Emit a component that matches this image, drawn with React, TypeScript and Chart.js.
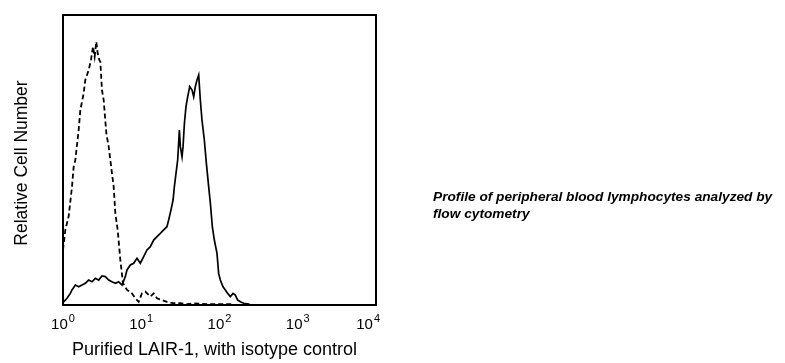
import React, { useEffect, useRef } from "react";
import { Chart, registerables } from "chart.js";

Chart.register(...registerables);

// Isotype control (dashed)
const isotypeX = [1.0, 1.071, 1.181, 1.303, 1.369, 1.438, 1.585, 1.665, 1.837, 1.928, 2.128, 2.279, 2.417, 2.539, 2.667, 2.773, 2.912, 3.0, 3.149, 3.309, 3.58, 3.834, 4.227, 4.441, 4.665, 4.997, 5.406, 5.845, 6.576, 7.615, 8.4, 9.27, 10.2, 11.28, 13.06, 14.41, 15.9, 18.4, 21.3, 25.9, 31.6, 38.4, 46.8, 69.2, 102, 152];
const isotypeY = [19.0, 25.9, 30.5, 40.8, 47.7, 50.0, 60.3, 67.2, 73.0, 77.6, 81.0, 84.5, 89.1, 85.6, 90.8, 86.8, 84.5, 83.9, 74.1, 70.7, 59.2, 54.6, 45.4, 40.8, 31.6, 25.9, 15.5, 7.5, 5.2, 4.0, 2.3, 1.1, 4.0, 4.6, 2.9, 4.0, 2.3, 1.7, 1.1, 0.6, 0.6, 0.3, 0.6, 0.3, 0.3, 0.3];

// Purified LAIR-1 (solid)
const lair1X = [1.02, 1.125, 1.241, 1.303, 1.438, 1.585, 1.749, 1.928, 2.128, 2.348, 2.589, 2.857, 3.149, 3.475, 3.834, 4.227, 4.665, 5.146, 5.677, 6.263, 6.576, 7.25, 8.0, 8.83, 9.73, 10.74, 11.84, 13.06, 14.41, 15.9, 17.54, 19.34, 21.3, 22.4, 24.0, 25.5, 26.5, 27.8, 29.2, 30.7, 31.6, 33.2, 34.2, 35.6, 37.3, 39.2, 41.6, 44.6, 46.8, 49.1, 51.6, 54.2, 56.9, 59.7, 64.0, 67.9, 72.7, 76.4, 81.0, 85.9, 92.9, 97.5, 102.5, 110.9, 118.8, 127.2, 137.5, 148.8, 159.3, 170.7, 184.6, 203.7, 236, 247.7];
const lair1Y = [1.1, 2.3, 4.0, 5.2, 6.9, 6.3, 6.9, 7.5, 8.6, 8.0, 9.2, 8.6, 10.0, 9.8, 8.6, 8.0, 7.5, 8.0, 6.9, 9.8, 12.1, 13.8, 14.4, 16.1, 14.4, 16.7, 19.0, 20.1, 22.4, 23.6, 24.7, 25.9, 27.0, 29.3, 32.8, 36.2, 40.8, 45.4, 50.0, 60.3, 54.6, 51.1, 54.6, 62.6, 68.4, 71.8, 75.3, 74.1, 71.8, 75.3, 77.6, 79.3, 70.7, 63.8, 56.9, 48.9, 40.8, 35.1, 27.0, 22.4, 17.8, 10.9, 8.6, 6.3, 5.2, 4.0, 2.9, 4.0, 3.4, 1.7, 1.1, 0.6, 0.3, 0];

const xTickValues = [1, 10, 100, 1000, 10000];
const xTickExponents = ["0", "1", "2", "3", "4"];

const xTitle = "Purified LAIR-1, with isotype control";
const yTitle = "Relative Cell Number";
const captionLines = ["Profile of peripheral blood lymphocytes analyzed by", "flow cytometry"];

const FONT = "Arial, 'Liberation Sans', Helvetica, sans-serif";

const decorPlugin = {
  id: "decor",
  afterDraw(chart: any) {
    const { ctx, chartArea, scales } = chart;
    const xs = scales.x;
    ctx.save();
    // frame
    ctx.strokeStyle = "#000";
    ctx.lineWidth = 2;
    ctx.strokeRect(chartArea.left, chartArea.top, chartArea.right - chartArea.left, chartArea.bottom - chartArea.top);
    // tick labels
    ctx.fillStyle = "#000";
    ctx.textBaseline = "alphabetic";
    xTickValues.forEach((v, i) => {
      const px = xs.getPixelForValue(v);
      ctx.font = `15px ${FONT}`;
      const baseW = ctx.measureText("10").width;
      ctx.font = `11px ${FONT}`;
      const expW = ctx.measureText(xTickExponents[i]).width;
      const total = baseW + expW + 1;
      let left = px - total / 2;
      if (i === xTickValues.length - 1) left = px - total + 4;
      ctx.font = `15px ${FONT}`;
      ctx.textAlign = "left";
      ctx.fillText("10", left, 329);
      ctx.font = `11px ${FONT}`;
      ctx.fillText(xTickExponents[i], left + baseW + 1, 322);
    });
    // x title
    ctx.font = `18px ${FONT}`;
    ctx.textAlign = "center";
    ctx.fillText(xTitle, 214.5, 355);
    // y title
    ctx.translate(27, 163);
    ctx.rotate(-Math.PI / 2);
    ctx.font = `17.5px ${FONT}`;
    ctx.fillText(yTitle, 0, 0);
    ctx.restore();
  },
};

export default function App() {
  const ref = useRef<HTMLCanvasElement | null>(null);

  useEffect(() => {
    if (!ref.current) return;
    const chart = new Chart(ref.current, {
      type: "line",
      data: {
        datasets: [
          {
            label: "Isotype control",
            data: isotypeX.map((x, i) => ({ x, y: isotypeY[i] })),
            borderColor: "#000",
            borderWidth: 1.8,
            borderDash: [5, 3],
            pointRadius: 0,
            fill: false,
            tension: 0,
          },
          {
            label: "Purified LAIR-1",
            data: lair1X.map((x, i) => ({ x, y: lair1Y[i] })),
            borderColor: "#000",
            borderWidth: 1.7,
            pointRadius: 0,
            fill: false,
            tension: 0,
          },
        ],
      },
      options: {
        responsive: false,
        animation: false,
        layout: { padding: { left: 63, top: 15, right: 409, bottom: 58 } },
        plugins: { legend: { display: false }, tooltip: { enabled: false } },
        scales: {
          x: { type: "logarithmic", min: 1, max: 10000, display: false },
          y: { type: "linear", min: 0, max: 100, display: false },
        },
      },
      plugins: [decorPlugin],
    });
    return () => chart.destroy();
  }, []);

  return (
    <div style={{ position: "fixed", left: 0, top: 0, width: 785, height: 363, background: "#fff" }}>
      <canvas ref={ref} width={785} height={363} style={{ position: "absolute", left: 0, top: 0, width: 785, height: 363 }} />
      <div
        style={{
          position: "absolute",
          left: 433,
          top: 188,
          width: 352,
          fontFamily: FONT,
          fontWeight: "bold",
          fontStyle: "italic",
          fontSize: 13.7,
          lineHeight: "17px",
          color: "#000",
        }}
      >
        {captionLines.map((l, i) => (
          <div key={i}>{l}</div>
        ))}
      </div>
    </div>
  );
}
